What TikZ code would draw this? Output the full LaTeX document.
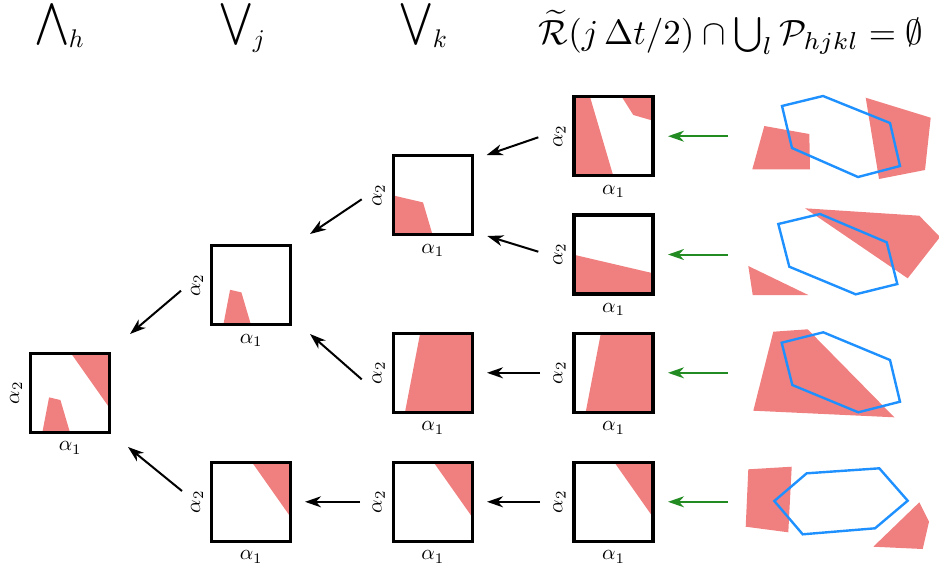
\documentclass[tikz,border=0pt]{standalone}
\usepackage{amsmath,amssymb,graphicx}
\usetikzlibrary{arrows.meta,calc}
\definecolor{redfill}{RGB}{240,128,128}
\definecolor{hexblue}{RGB}{30,144,255}
\definecolor{arrgreen}{RGB}{34,139,34}
\def\BoxP{(0,0) rectangle (79,79)}
\def\RoneP{(-5,-5) -- (14.5,-5) -- (40.7,84) -- (-5,84) -- cycle (44.5,-5) -- (59.3,18.3) -- (84,25.4) -- (84,-5) -- cycle}
\def\RtwoP{(-5,38.6) -- (84,59.4) -- (84,84) -- (-5,84) -- cycle}
\def\RthreeP{(27.8,-5) -- (84,-5) -- (84,84) -- (10.7,84) -- cycle}
\def\RfourP{(36.8,-5) -- (84,-5) -- (84,62) -- cycle}
\newcommand\opsub[1]{\raisebox{-5pt}{\scalebox{0.85}{$#1$}}}
\begin{document}
\begin{tikzpicture}[x=1pt,y=-1pt,
  box/.style={draw, rectangle, line width=3.2pt, minimum size=79pt, inner sep=0pt},
  alab/.style={inner sep=0pt, scale=2.1},
  hdr/.style={inner sep=0pt, scale=3.0},
  fhdr/.style={inner sep=0pt, scale=3.5},
  arr/.style={-{Stealth[length=16pt,width=11pt,inset=5pt]}, line width=2pt},
  garr/.style={arr, draw=arrgreen, fill=arrgreen},
  hex/.style={draw=hexblue, line width=2.4pt, line join=miter},
  blob/.style={fill=redfill}]
\useasboundingbox (0,0) rectangle (939,566);
% headers
\node[hdr, anchor=base west] (hA) at (35,32) {$\displaystyle\bigwedge$\opsub{h}};
\node[hdr, anchor=base west] (hB) at (219,32) {$\displaystyle\bigvee$\opsub{j}};
\node[hdr, anchor=base west] (hC) at (399,32) {$\displaystyle\bigvee$\opsub{k}};
\node[fhdr, anchor=base east] (hD) at (924,44) {$\widetilde{\mathcal{R}}(j\,\Delta t/2)\cap\bigcup_l\mathcal{P}_{hjkl}=\emptyset$};
% red regions inside boxes
\begin{scope}[shift={(574,96.7)}]\clip \BoxP; \fill[redfill] \RoneP;\end{scope}
\begin{scope}[shift={(574,215)}]\clip \BoxP; \fill[redfill] \RtwoP;\end{scope}
\begin{scope}[shift={(574,333.3)}]\clip \BoxP; \fill[redfill] \RthreeP;\end{scope}
\begin{scope}[shift={(574,462.3)}]\clip \BoxP; \fill[redfill] \RfourP;\end{scope}
\begin{scope}[shift={(393.3,155.7)}]\clip \BoxP; \clip \RoneP; \fill[redfill] \RtwoP;\end{scope}
\begin{scope}[shift={(393.3,333.3)}]\clip \BoxP; \fill[redfill] \RthreeP;\end{scope}
\begin{scope}[shift={(393.3,462.3)}]\clip \BoxP; \fill[redfill] \RfourP;\end{scope}
\begin{scope}[shift={(211.7,245.7)}]\clip \BoxP; \clip \RoneP; \clip \RtwoP; \fill[redfill] \RthreeP;\end{scope}
\begin{scope}[shift={(211.7,462.3)}]\clip \BoxP; \fill[redfill] \RfourP;\end{scope}
\begin{scope}[shift={(30.7,353.3)}]\clip \BoxP; \fill[redfill] \RfourP;
  \begin{scope}\clip \RoneP; \clip \RtwoP; \fill[redfill] \RthreeP;\end{scope}
\end{scope}
% boxes
\node[box] (a) at (70.2,392.8) {};
\node[box] (b) at (251.2,285.2) {};
\node[box] (f) at (251.2,501.8) {};
\node[box] (c) at (432.8,195.2) {};
\node[box] (d) at (432.8,372.8) {};
\node[box] (e) at (432.8,501.8) {};
\node[box] (r1) at (613.5,136.2) {};
\node[box] (r2) at (613.5,254.5) {};
\node[box] (r3) at (613.5,372.8) {};
\node[box] (r4) at (613.5,501.8) {};
\foreach \n in {a,b,f,c,d,e,r1,r2,r3,r4}{
  \node[alab] at ($(\n.south)+(0,14)$) {$\alpha_1$};
  \node[alab, rotate=90] at ($(\n.west)+(-13,0)$) {$\alpha_2$};
}
% arrow end points
\coordinate (s1) at (538.3,137.3); \coordinate (t1) at (486.7,155);
\coordinate (s2) at (538.3,251.7); \coordinate (t2) at (487.3,236);
\coordinate (s3) at (540,372.8);   \coordinate (t3) at (487,372.8);
\coordinate (s4) at (540,501.8);   \coordinate (t4) at (487,501.8);
\coordinate (s5) at (361.7,199.3); \coordinate (t5) at (310,234);
\coordinate (s6) at (361.7,379.3); \coordinate (t6) at (310,334);
\coordinate (s7) at (360,501.8);   \coordinate (t7) at (305,501.8);
\coordinate (s8) at (181,290.7);   \coordinate (t8) at (130,334);
\coordinate (s9) at (182,491);     \coordinate (t9) at (128,447);
\foreach \i in {1,...,9}{\draw[arr] (s\i) -- (t\i);}
% green arrows
\foreach \r in {r1,r2,r3,r4}{
  \coordinate (g\r) at ($(\r)+(114.5,0)$);
  \coordinate (h\r) at ($(\r)+(54.5,0)$);
  \draw[garr] (g\r) -- (h\r);
}
% right-hand scenes
% row 1
\fill[blob] (764.3,126) -- (809.3,134) -- (810,169.3) -- (752.3,169.3) -- cycle;
\fill[blob] (865.7,97.7) -- (930.7,117.7) -- (925,170) -- (879,179) -- cycle;
\draw[hex] (782,106) -- (823,96) -- (890,123) -- (900,166) -- (858,177) -- (792,148) -- cycle;
% row 2
\fill[blob] (805,208.3) -- (919.3,215.7) -- (940,237) -- (907.7,278.3) -- cycle;
\fill[blob] (748.3,266) -- (808.3,295) -- (752.7,295) -- cycle;
\draw[hex] (778.3,224) -- (820,214) -- (886.7,242.3) -- (897.3,284) -- (855.7,294.3) -- (789.3,266.7) -- cycle;
% row 3
\fill[blob] (773.3,331.7) -- (807.7,329.3) -- (894.3,417.3) -- (753.3,410.7) -- cycle;
\draw[hex] (781.7,342.7) -- (823.3,332.3) -- (890,360) -- (900,401.7) -- (858.3,412.3) -- (792.3,385) -- cycle;
% row 4
\fill[blob] (748.3,469.3) -- (791.7,466.7) -- (788.3,532.3) -- (745.7,526.7) -- cycle;
\fill[blob] (919.3,502.3) -- (929,521.7) -- (922.7,549) -- (873.3,546.7) -- cycle;
\draw[hex] (774.3,501) -- (806.7,473.3) -- (879.3,468.3) -- (907.7,500.7) -- (875,528.3) -- (802.7,534.3) -- cycle;
\end{tikzpicture}
\end{document}
